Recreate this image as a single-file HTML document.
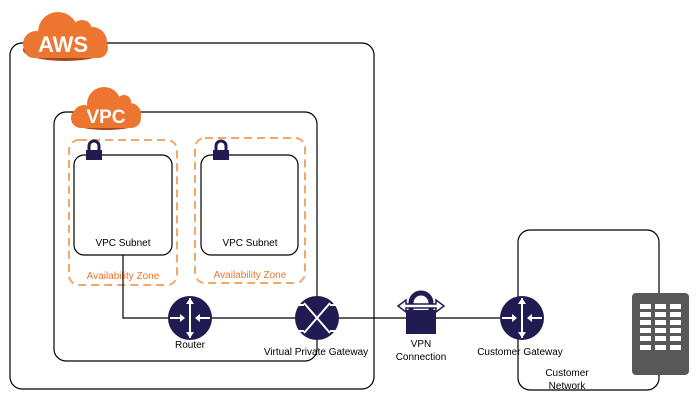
<!DOCTYPE html>
<html><head><style>body{margin:0;background:#fff}svg{display:block}text{font-family:"Liberation Sans",sans-serif}</style></head><body>
<svg width="699" height="402" viewBox="0 0 699 402">
<defs>
<g id="rt"><circle r="22" fill="#201c52"/>
<g stroke="#fff" stroke-width="2" fill="#fff">
<line x1="0" y1="-20" x2="0" y2="20"/><path d="M-4,-14 L0,-20 L4,-14Z M-4,14 L0,20 L4,14Z" stroke="none"/>
<line x1="-20" y1="0" x2="-6" y2="0"/><line x1="6" y1="0" x2="20" y2="0"/>
<path d="M-10,-4 L-5,0 L-10,4Z M10,-4 L5,0 L10,4Z" stroke="none"/></g></g>
</defs>
<rect x="10" y="43" width="364" height="346" rx="12" fill="none" stroke="#000" stroke-width="1.2"/>
<rect x="54" y="112" width="263" height="249" rx="12" fill="none" stroke="#000" stroke-width="1.2"/>
<rect x="518" y="230" width="141" height="160" rx="12" fill="none" stroke="#000" stroke-width="1.2"/>
<!-- AWS cloud -->
<g fill="#a04a1c"><ellipse cx="65" cy="50" rx="42" ry="11"/></g>
<g fill="#ec7630">
<circle cx="58" cy="32" r="20"/><circle cx="82" cy="30" r="10"/><circle cx="92" cy="42" r="15"/><circle cx="36" cy="44" r="13"/>
<rect x="24" y="38" width="84" height="20" rx="10"/></g>
<text x="63" y="52" font-size="22" font-weight="bold" fill="#fff" text-anchor="middle">AWS</text>
<!-- VPC cloud -->
<ellipse cx="106" cy="122" rx="34" ry="8" fill="#a04a1c"/>
<g fill="#ec7630"><circle cx="104" cy="104" r="17"/><circle cx="124" cy="102" r="7"/><circle cx="130" cy="114" r="11"/><circle cx="84" cy="116" r="11"/>
<rect x="71" y="108" width="70" height="20" rx="10"/></g>
<text x="106" y="123" font-size="19" font-weight="bold" fill="#fff" text-anchor="middle">VPC</text>
<!-- AZ -->
<rect x="69" y="140" width="108" height="145" rx="10" fill="none" stroke="#f0a868" stroke-width="2" stroke-dasharray="8,5"/>
<rect x="195" y="138" width="110" height="145" rx="10" fill="none" stroke="#f0a868" stroke-width="2" stroke-dasharray="8,5"/>
<rect x="74" y="155" width="98" height="100" rx="10" fill="#fff" stroke="#000" stroke-width="1.2"/>
<rect x="201" y="155" width="97" height="100" rx="10" fill="#fff" stroke="#000" stroke-width="1.2"/>
<g fill="#201c52"><rect x="86" y="150" width="16" height="10"/><path d="M89,150 v-4 a5,5 0 0 1 10,0 v4" fill="none" stroke="#201c52" stroke-width="3"/>
<rect x="213" y="150" width="16" height="10"/><path d="M216,150 v-4 a5,5 0 0 1 10,0 v4" fill="none" stroke="#201c52" stroke-width="3"/></g>
<text x="123" y="246" font-size="10" text-anchor="middle">VPC Subnet</text>
<text x="250" y="246" font-size="10" text-anchor="middle">VPC Subnet</text>
<text x="123" y="279" font-size="10" fill="#ec7630" text-anchor="middle">Availability Zone</text>
<text x="250" y="278" font-size="10" fill="#ec7630" text-anchor="middle">Availability Zone</text>
<!-- lines -->
<path d="M123,255 V318 H522" fill="none" stroke="#000" stroke-width="1.2"/>
<use href="#rt" x="190" y="318"/>
<use href="#rt" x="522" y="318"/>
<circle cx="317" cy="318" r="22" fill="#201c52"/>
<g stroke="#fff" stroke-width="2" fill="none"><path d="M304,303 L330,333 M330,303 L304,333 M296,305 H304 M330,305 H338 M296,331 H304 M330,331 H338"/></g>
<!-- VPN lock -->
<rect x="394" y="299" width="48" height="2" fill="none"/>
<rect x="406" y="310" width="30" height="24" fill="#201c52"/>
<path d="M411,310 v-7 a10,10 0 0 1 20,0 v7" fill="none" stroke="#201c52" stroke-width="5"/>
<path d="M398,306 L406,300 V304 H436 V300 L444,306 L436,312 V308 H406 V312Z" fill="#fff" stroke="#201c52" stroke-width="1.5"/>
<!-- server -->
<rect x="632" y="293" width="57" height="82" rx="4" fill="#585858"/>
<g fill="#fff"><rect x="640" y="304" width="11" height="5"/><rect x="655" y="304" width="11" height="5"/><rect x="670" y="304" width="11" height="5"/>
<rect x="640" y="312" width="11" height="5"/><rect x="655" y="312" width="11" height="5"/><rect x="670" y="312" width="11" height="5"/>
<rect x="640" y="320" width="11" height="5"/><rect x="655" y="320" width="11" height="5"/><rect x="670" y="320" width="11" height="5"/>
<rect x="640" y="328" width="11" height="5"/><rect x="655" y="328" width="11" height="5"/><rect x="670" y="328" width="11" height="5"/>
<rect x="640" y="336" width="11" height="5"/><rect x="655" y="336" width="11" height="5"/><rect x="670" y="336" width="11" height="5"/>
<rect x="640" y="345" width="11" height="5"/><rect x="655" y="345" width="11" height="5"/><rect x="670" y="345" width="11" height="5"/></g>
<text x="190" y="348" font-size="10" text-anchor="middle">Router</text>
<text x="316" y="355" font-size="10" text-anchor="middle">Virtual Private Gateway</text>
<text x="421" y="347" font-size="10" text-anchor="middle">VPN</text>
<text x="421" y="360" font-size="10" text-anchor="middle">Connection</text>
<text x="520" y="355" font-size="10" text-anchor="middle">Customer Gateway</text>
<text x="567" y="376" font-size="10" text-anchor="middle">Customer</text>
<text x="567" y="389" font-size="10" text-anchor="middle">Network</text>
</svg>
</body></html>
